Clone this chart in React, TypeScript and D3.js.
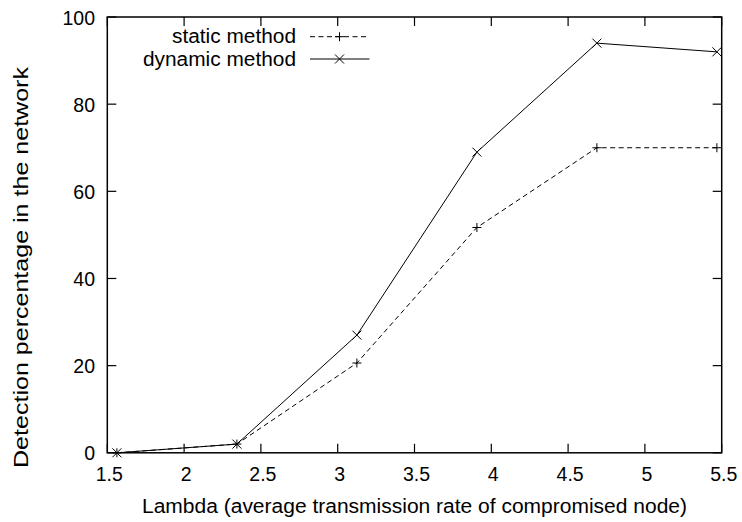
import React from "react";
import * as d3 from "d3";

const xValues = [1.5625, 2.34375, 3.125, 3.90625, 4.6875, 5.46875];
const staticValues = [0, 2, 20.6, 51.7, 70, 70];
const dynamicValues = [0, 2, 27, 69, 94, 92];
const xTicks = [1.5, 2, 2.5, 3, 3.5, 4, 4.5, 5, 5.5];
const yTicks = [0, 20, 40, 60, 80, 100];
const seriesNames = ["static method", "dynamic method"];
const xLabel = "Lambda (average transmission rate of compromised node)";
const yLabel = "Detection percentage in the network";

const W = 742, H = 522;
const L = 107.3, R = 721.7, T = 17, B = 452.8;
const FONT = "'Liberation Sans', Arial, Helvetica, sans-serif";

function Plus({ x, y, s = 4.5 }: { x: number; y: number; s?: number }) {
  return (
    <g stroke="#000" strokeWidth={1}>
      <line x1={x - s} x2={x + s} y1={y} y2={y} />
      <line x1={x} x2={x} y1={y - s} y2={y + s} />
    </g>
  );
}
function Cross({ x, y, s = 4.5 }: { x: number; y: number; s?: number }) {
  return (
    <g stroke="#000" strokeWidth={1}>
      <line x1={x - s} x2={x + s} y1={y - s} y2={y + s} />
      <line x1={x - s} x2={x + s} y1={y + s} y2={y - s} />
    </g>
  );
}

export default function App() {
  const x = d3.scaleLinear().domain([1.5, 5.5]).range([L, R]);
  const y = d3.scaleLinear().domain([0, 100]).range([B, T]);
  const line = d3
    .line<number>()
    .x((_, i) => x(xValues[i]))
    .y((d) => y(d));
  const tick = 9;
  return (
    <svg
      width={W}
      height={H}
      style={{ position: "absolute", left: 0, top: 0, background: "#fff" }}
      fontFamily={FONT}
    >
      <rect width={W} height={H} fill="#fff" />
      {xTicks.map((t) => (
        <g key={"x" + t}>
          <line x1={x(t)} x2={x(t)} y1={B} y2={B - tick} stroke="#000" strokeWidth={1.2} />
          <line x1={x(t)} x2={x(t)} y1={T} y2={T + tick} stroke="#000" strokeWidth={1.2} />
          <text x={x(t) + 2} y={480.7} fontSize={19.5} textAnchor="middle" fill="#000">
            {t}
          </text>
        </g>
      ))}
      {yTicks.map((t) => (
        <g key={"y" + t}>
          <line x1={L} x2={L + tick} y1={y(t)} y2={y(t)} stroke="#000" strokeWidth={1.2} />
          <line x1={R} x2={R - tick} y1={y(t)} y2={y(t)} stroke="#000" strokeWidth={1.2} />
          <text x={95} y={y(t) + 7.5} fontSize={19.5} textAnchor="end" fill="#000">
            {t}
          </text>
        </g>
      ))}
      <rect x={L} y={T} width={R - L} height={B - T} fill="none" stroke="#000" strokeWidth={1.5} />
      <path d={line(staticValues) || ""} fill="none" stroke="#000" strokeWidth={1} strokeDasharray="5,3.5" />
      <path d={line(dynamicValues) || ""} fill="none" stroke="#000" strokeWidth={1} />
      {staticValues.map((v, i) => (
        <Plus key={"s" + i} x={x(xValues[i])} y={y(v)} />
      ))}
      {dynamicValues.map((v, i) => (
        <Cross key={"d" + i} x={x(xValues[i])} y={y(v)} />
      ))}
      <text x={296} y={43.3} fontSize={19.5} textAnchor="end" fill="#000" textLength={124} lengthAdjust="spacingAndGlyphs">
        {seriesNames[0]}
      </text>
      <line x1={310} x2={369.5} y1={36.7} y2={36.7} stroke="#000" strokeWidth={1} strokeDasharray="5,3.5" />
      <Plus x={339.5} y={36.7} />
      <text x={296} y={65.7} fontSize={19.5} textAnchor="end" fill="#000" textLength={153} lengthAdjust="spacingAndGlyphs">
        {seriesNames[1]}
      </text>
      <line x1={310} x2={369.5} y1={59} y2={59} stroke="#000" strokeWidth={1} />
      <Cross x={339.5} y={59} />
      <text x={414.5} y={513.3} fontSize={19.5} textAnchor="middle" fill="#000" textLength={545} lengthAdjust="spacingAndGlyphs">
        {xLabel}
      </text>
      <text
        transform={`translate(28, 267.5) rotate(-90)`}
        fontSize={21}
        textAnchor="middle"
        fill="#000"
        textLength={401}
        lengthAdjust="spacingAndGlyphs"
      >
        {yLabel}
      </text>
    </svg>
  );
}
